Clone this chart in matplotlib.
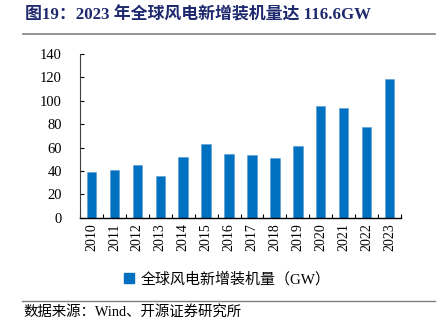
import matplotlib
matplotlib.use("Agg")
import matplotlib.pyplot as plt
from matplotlib.lines import Line2D
from matplotlib.patches import Patch

# fonts: Times-like for latin, CJK fallback
plt.rcParams['font.family'] = ['Liberation Serif', 'Noto Sans CJK SC']

years = ['2010', '2011', '2012', '2013', '2014', '2015', '2016',
         '2017', '2018', '2019', '2020', '2021', '2022', '2023']
installed_gw = [38.8, 40.8, 44.8, 35.7, 51.7, 63.3, 54.5,
                53.4, 50.8, 61.1, 95.6, 93.8, 77.9, 118.5]
y_ticks = [0, 20, 40, 60, 80, 100, 120, 140]

title = '图19：2023 年全球风电新增装机量达 116.6GW'
series_name = '全球风电新增装机量（GW）'
source = '数据来源：Wind、开源证券研究所'

bar_color = '#0070C0'

fig = plt.figure(figsize=(4.43, 3.28), dpi=100)
ax = fig.add_axes([0.1806, 0.3363, 0.7246, 0.4991])

x = list(range(len(years)))
ax.bar(x, installed_gw, width=0.41, color=bar_color, edgecolor='#5B9BD5', linewidth=0.4)

ax.set_xlim(-0.5, len(years) - 0.5)
ax.set_ylim(0, 140)
ax.set_yticks(y_ticks)
ax.set_yticklabels([str(t) for t in y_ticks], fontsize=10.5)
ax.tick_params(axis='y', direction='in', length=3, width=0.8, pad=13, colors='black')

# year labels under bars, tick marks between categories
ax.set_xticks(x)
ax.set_xticklabels(years, rotation=90, fontsize=10)
ax.tick_params(axis='x', which='major', length=0, pad=4)
ax.set_xticks([i - 0.5 for i in range(len(years) + 1)], minor=True)
ax.tick_params(axis='x', which='minor', direction='in', length=3, width=0.8)

for side in ['top', 'right']:
    ax.spines[side].set_visible(False)
ax.spines['left'].set_color('#404040')
ax.spines['left'].set_linewidth(0.8)
ax.spines['bottom'].set_color('black')
ax.spines['bottom'].set_linewidth(1.0)

# title and rule
fig.text(25 / 443, 1 - 15 / 328, title, fontsize=12.2, fontweight='bold',
         color='#1F2A6E', va='center', ha='left')
fig.add_artist(Line2D([23 / 443, 435 / 443], [1 - 34 / 328, 1 - 34 / 328],
                      color='#7F7F7F', linewidth=1.2))

# legend
handle = Patch(facecolor=bar_color, edgecolor=bar_color)
fig.legend([handle], [series_name], loc='center', bbox_to_anchor=(227 / 443, 1 - 279 / 328),
           frameon=False, fontsize=10.8, handlelength=0.7, handleheight=0.7, handletextpad=0.4)

# source rule and text
fig.add_artist(Line2D([22 / 443, 435 / 443], [1 - 301 / 328, 1 - 301 / 328],
                      color='#7F7F7F', linewidth=1.0))
fig.text(23 / 443, 1 - 312 / 328, source, fontsize=10.4, color='black', va='center', ha='left')

fig.savefig('out.png', dpi=100)
